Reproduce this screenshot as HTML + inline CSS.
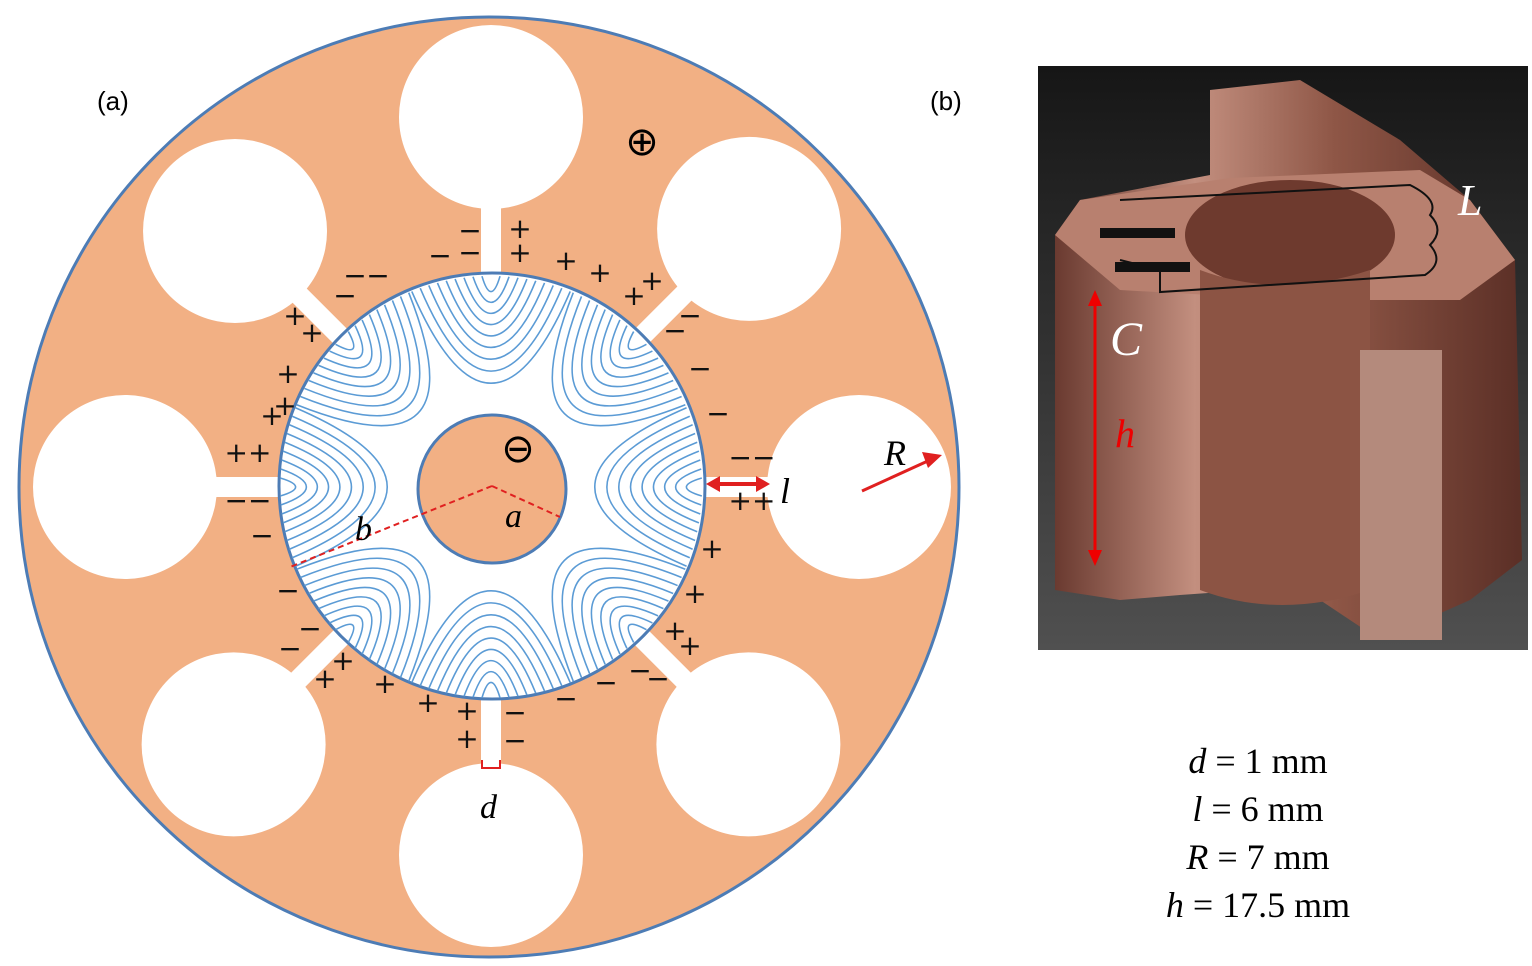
<!DOCTYPE html>
<html><head><meta charset="utf-8"><style>
html,body{margin:0;padding:0;background:#fff;width:1532px;height:966px;overflow:hidden}
svg{display:block}
</style></head><body>
<svg id="s" width="1532" height="966" viewBox="0 0 1532 966" font-family="Liberation Serif, serif">
<defs>
<linearGradient id="cu" x1="0" x2="1">
<stop offset="0" stop-color="#6a3a30"/><stop offset="0.3" stop-color="#c38f7f"/><stop offset="0.6" stop-color="#8e5646"/><stop offset="1" stop-color="#5b2f26"/></linearGradient>
<linearGradient id="bg" x1="0" y1="0" x2="0" y2="1"><stop offset="0" stop-color="#161616"/><stop offset="1" stop-color="#505050"/></linearGradient>
</defs>
<g id="panelA">
<circle cx="489" cy="487" r="470" fill="#F2B084" stroke="#4d7cb5" stroke-width="3"/>
<g id="holes"></g>
<circle cx="492" cy="486" r="213" fill="#fff" stroke="#4d7cb5" stroke-width="3"/>
<g id="field"></g>
<circle cx="492" cy="489" r="74" fill="#F2B084" stroke="#4d7cb5" stroke-width="3"/>
<text x="97" y="110" style="font-family:'Liberation Sans',sans-serif" font-size="26">(a)</text>
<text x="930" y="110" style="font-family:'Liberation Sans',sans-serif" font-size="26">(b)</text>
<text x="642" y="155" font-size="40" text-anchor="middle" style="font-family:'DejaVu Sans',sans-serif">⊕</text>
<text x="518" y="462" font-size="40" text-anchor="middle" style="font-family:'DejaVu Sans',sans-serif">⊖</text>
<line x1="492" y1="486" x2="290" y2="567" stroke="#e02020" stroke-width="2" stroke-dasharray="6,4"/>
<line x1="492" y1="486" x2="560" y2="517" stroke="#e02020" stroke-width="2" stroke-dasharray="6,4"/>
<text x="355" y="540" font-size="34" font-style="italic">b</text>
<text x="505" y="527" font-size="34" font-style="italic">a</text>
<line x1="712" y1="484" x2="764" y2="484" stroke="#e02020" stroke-width="4"/>
<polygon points="706,484 720,476 720,492" fill="#e02020"/><polygon points="770,484 756,476 756,492" fill="#e02020"/>
<text x="780" y="503" font-size="36" font-style="italic">l</text>
<line x1="862" y1="491" x2="930" y2="460" stroke="#e02020" stroke-width="3"/>
<polygon points="942,455 922,452 928,468" fill="#e02020"/>
<text x="884" y="465" font-size="36" font-style="italic">R</text>
<path d="M482 760 v8 h18 v-8" fill="none" stroke="#e02020" stroke-width="2"/>
<text x="480" y="818" font-size="34" font-style="italic">d</text>
<g id="charges" style="font-family:'DejaVu Sans',sans-serif" font-size="28" fill="#111"></g>
</g>
<g id="panelB">
<rect x="1038" y="66" width="490" height="584" fill="url(#bg)"/>
<path d="M1055 235 L1080 200 L1210 175 L1210 90 L1300 80 L1400 140 L1470 200 L1515 260 L1522 560 L1470 600 L1380 640 L1320 600 L1250 590 L1180 595 L1120 600 L1055 590 Z" fill="url(#cu)"/>
<path d="M1055 235 L1080 200 L1230 178 L1420 170 L1470 200 L1515 260 L1460 300 L1300 300 L1120 290 Z" fill="#b8806f"/>
<ellipse cx="1290" cy="235" rx="105" ry="55" fill="#6e3a2e"/>
<path d="M1200 270 Q1280 300 1370 270 L1370 590 Q1280 620 1200 590 Z" fill="#8c5444"/>
<rect x="1360" y="350" width="82" height="290" fill="#b48a7c"/>
<path d="M1120 200 L1410 185 Q1440 200 1430 215 Q1445 230 1430 245 Q1445 262 1425 275 L1160 292 L1160 270 L1120 260" fill="none" stroke="#111" stroke-width="2"/>
<rect x="1100" y="228" width="75" height="10" fill="#111"/>
<rect x="1115" y="262" width="75" height="10" fill="#111"/>
<text x="1458" y="215" font-size="44" font-style="italic" fill="#fff">L</text>
<text x="1110" y="355" font-size="48" font-style="italic" fill="#fff">C</text>
<line x1="1095" y1="300" x2="1095" y2="555" stroke="#e00" stroke-width="3"/>
<polygon points="1095,290 1088,306 1102,306" fill="#e00"/><polygon points="1095,566 1088,550 1102,550" fill="#e00"/>
<text x="1115" y="447" font-size="40" font-style="italic" fill="#e00">h</text>
</g>
<g font-size="36" text-anchor="middle">
<text x="1258" y="773"><tspan font-style="italic">d</tspan> = 1 mm</text>
<text x="1258" y="821"><tspan font-style="italic">l</tspan> = 6 mm</text>
<text x="1258" y="869"><tspan font-style="italic">R</tspan> = 7 mm</text>
<text x="1258" y="917"><tspan font-style="italic">h</tspan> = 17.5 mm</text>
</g>
</svg>
<script>
const NS="http://www.w3.org/2000/svg";
const cx=491,cy=487;
const slotAngles=[-90,-45,0,45,90,135,180,225];
const holeDist=[370,365,368,364,368,364,366,362];
const holeR=92;
function el(t,a,p){const e=document.createElementNS(NS,t);for(const k in a)e.setAttribute(k,a[k]);p.appendChild(e);return e;}
const H=document.getElementById('holes');
slotAngles.forEach((a,i)=>{
  const r=a*Math.PI/180,c=Math.cos(r),s=Math.sin(r);
  const sl=el('line',{x1:cx+c*200,y1:cy+s*200,x2:cx+c*holeDist[i],y2:cy+s*holeDist[i],stroke:'#fff','stroke-width':20},H);
  
  
  const h=el('circle',{cx:cx+c*holeDist[i],cy:cy+s*holeDist[i],r:holeR,fill:'#fff'},H);
  
  
});
const F=document.getElementById('field');
const b=211;
slotAngles.forEach(a=>{
  for(let k=1;k<=9;k++){
    const d=k*2.45*Math.PI/180, r0=a*Math.PI/180;
    const x1=cx+b*Math.cos(r0-d),y1=cy+b*Math.sin(r0-d);
    const x2=cx+b*Math.cos(r0+d),y2=cy+b*Math.sin(r0+d);
    const rr=b-10-k*21;
    const qx=cx+rr*Math.cos(r0),qy=cy+rr*Math.sin(r0);
    const p=el('path',{d:`M${x1} ${y1} Q${qx} ${qy} ${x2} ${y2}`,fill:'none',stroke:'#5b9bd5','stroke-width':1.6},F);
    
    
  }
});
const C=document.getElementById('charges');
const signs=[["−",440,265],["−",470,240],["−",470,262],["+",520,238],["+",520,262],["+",566,270],["+",600,282],["+",634,305],["+",652,290],["−",355,285],["−",345,305],["+",295,325],["+",312,342],["+",288,383],["+",285,415],["+",272,425],["++",248,462],["−−",248,510],["−",262,545],["−",288,600],["−",310,638],["−",290,658],["+",325,688],["+",343,670],["+",385,693],["+",428,712],["+",467,720],["−",515,722],["+",467,748],["−",515,750],["−",566,708],["−",606,692],["−",640,680],["−",658,688],["−",690,325],["−",675,340],["−",700,378],["−",718,423],["−−",752,467],["++",752,510],["+",712,558],["+",695,603],["+",675,640],["+",690,655],["−",378,285]];
signs.forEach(s=>{const t=el('text',{x:s[1],y:s[2],'text-anchor':'middle'},C);t.textContent=s[0];});
</script>
</body></html>
